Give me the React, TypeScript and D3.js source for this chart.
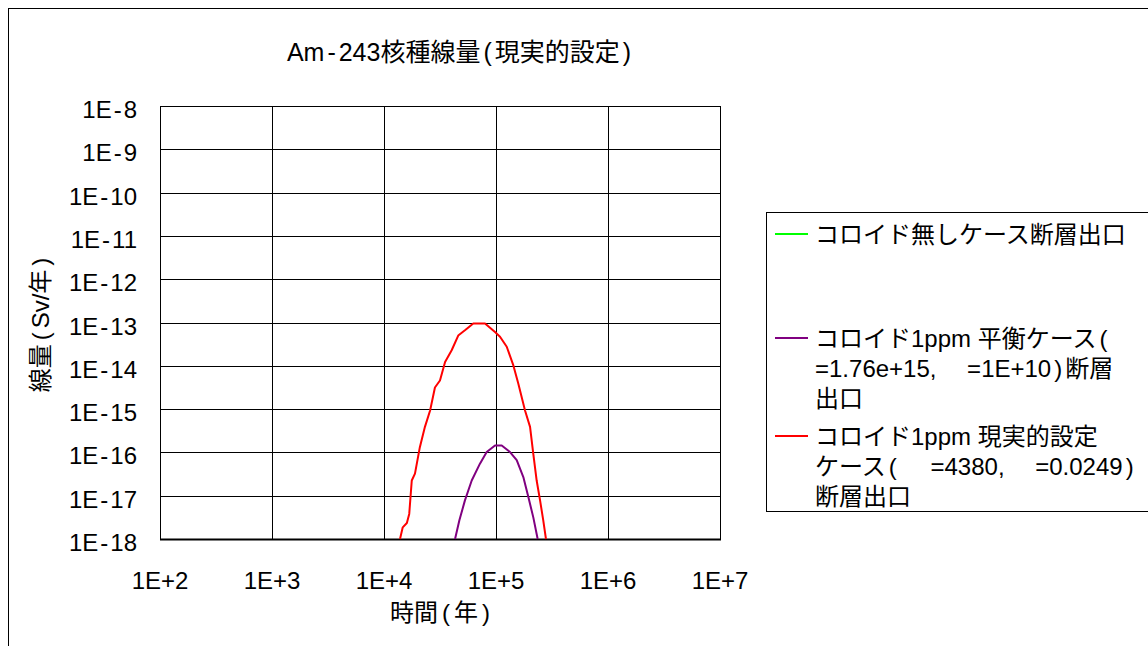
import React from "react";
import * as d3 from "d3";

// time (years) and dose (Sv/yr)
const redTime = [13900, 14700, 16000, 16800, 17700, 18900, 20900, 23200, 25800, 28500, 31600, 35100, 40200, 46000, 52800, 62700, 79800, 98000, 108600, 124700, 142900, 158100, 181600, 201400, 215300, 230700, 247200, 264200, 279300];
const redDose = [1e-18, 1.86e-18, 2.34e-18, 3.8e-18, 2.24e-17, 3.24e-17, 1.32e-16, 3.89e-16, 9.3e-16, 3.16e-15, 4.57e-15, 1.23e-14, 2.29e-14, 5.0e-14, 6.6e-14, 9.5e-14, 9.5e-14, 6.0e-14, 4.7e-14, 2.75e-14, 1.02e-14, 3.9e-15, 9.3e-16, 3.89e-16, 9.3e-17, 2.24e-17, 7.9e-18, 2.7e-18, 1e-18];

const purpleTime = [43100, 47100, 52800, 60700, 71900, 82600, 98000, 112500, 133400, 153100, 175400, 194500, 215300, 235500];
const purpleDose = [1e-18, 2.7e-18, 7.8e-18, 2.24e-17, 5.5e-17, 1.02e-16, 1.45e-16, 1.45e-16, 1.02e-16, 6.6e-17, 2.7e-17, 9.3e-18, 3.16e-18, 1e-18];

// no-colloid case stays below the plotted range
const greenTime: number[] = [];
const greenDose: number[] = [];

const xTicks = [1e2, 1e3, 1e4, 1e5, 1e6, 1e7];
const xTickLabels = ["1E+2", "1E+3", "1E+4", "1E+5", "1E+6", "1E+7"];
const yTicks = [1e-8, 1e-9, 1e-10, 1e-11, 1e-12, 1e-13, 1e-14, 1e-15, 1e-16, 1e-17, 1e-18];
const yTickLabels = ["1E-8", "1E-9", "1E-10", "1E-11", "1E-12", "1E-13", "1E-14", "1E-15", "1E-16", "1E-17", "1E-18"];

const legendLabels = [
  ["コロイド無しケース断層出口"],
  ["コロイド1ppm 平衡ケース(", "=1.76e+15,　 =1E+10)断層", "出口"],
  ["コロイド1ppm 現実的設定", "ケース(　 =4380,　 =0.0249)", "断層出口"],
];
const seriesColors = ["#00ff00", "#800080", "#ff0000"];

const FONT = "'Liberation Sans', Arial, 'Noto Sans CJK JP', sans-serif";

// the original font pads "-", "(" and ")" with a little space
function Spaced({ text, pad = 3 }: { text: string; pad?: number }) {
  const parts = text.split(/([-()])/).filter((p) => p !== "");
  return (
    <>
      {parts.map((p, i) =>
        p === "-" || p === "(" || p === ")" ? (
          <tspan key={i} dx={pad}>
            {p}
          </tspan>
        ) : (
          <tspan key={i} dx={i > 0 ? pad : 0}>
            {p}
          </tspan>
        )
      )}
    </>
  );
}

export default function App() {
  const left = 160, right = 720, top = 106, bottom = 539;
  const x = d3.scaleLog().domain([1e2, 1e7]).range([left, right]);
  const y = d3.scaleLog().domain([1e-18, 1e-8]).range([bottom, top]);

  const line = d3
    .line<[number, number]>()
    .x((d) => x(d[0]))
    .y((d) => y(d[1]));

  const series = [
    greenTime.map((t, i) => [t, greenDose[i]] as [number, number]),
    purpleTime.map((t, i) => [t, purpleDose[i]] as [number, number]),
    redTime.map((t, i) => [t, redDose[i]] as [number, number]),
  ];

  const legendRows = [234, 338, 436]; // first line y of each entry
  const rowGap = 30;

  return (
    <div style={{ position: "absolute", left: 0, top: 0 }}>
      <svg width={1148} height={646} style={{ display: "block", fontFamily: FONT }}>
        <rect x={0} y={0} width={1148} height={646} fill="#fff" />
        <rect x={8.5} y={8.5} width={1200} height={700} fill="none" stroke="#000" strokeWidth={1} />

        <text x={459} y={52} fontSize={25} textAnchor="middle" dominantBaseline="central">
          <Spaced text="Am-243核種線量(現実的設定)" pad={3} />
        </text>

        <defs>
          <clipPath id="plotClip">
            <rect x={left} y={top} width={right - left} height={bottom - top + 1} />
          </clipPath>
        </defs>

        {/* grid */}
        {xTicks.map((t) => (
          <line key={"gx" + t} x1={Math.round(x(t)) + 0.5} x2={Math.round(x(t)) + 0.5} y1={top} y2={bottom} stroke="#000" strokeWidth={1} />
        ))}
        {yTicks.map((t) => (
          <line key={"gy" + t} x1={left} x2={right} y1={Math.round(y(t)) + 0.5} y2={Math.round(y(t)) + 0.5} stroke="#000" strokeWidth={1} />
        ))}
        <rect x={left + 0.5} y={top + 0.5} width={right - left} height={bottom - top} fill="none" stroke="#000" strokeWidth={1} />
        <line x1={left} x2={right + 1} y1={bottom + 0.5} y2={bottom + 0.5} stroke="#000" strokeWidth={2} />

        {/* curves */}
        <g clipPath="url(#plotClip)">
          {series.map((s, i) =>
            s.length ? (
              <path key={i} d={line(s) || ""} fill="none" stroke={seriesColors[i]} strokeWidth={2} strokeLinejoin="round" />
            ) : null
          )}
        </g>

        {/* y tick labels */}
        {yTicks.map((t, i) => (
          <text key={"yl" + t} x={137} y={y(t) + 3} fontSize={24} textAnchor="end" dominantBaseline="central">
            <Spaced text={yTickLabels[i]} pad={2} />
          </text>
        ))}
        {/* x tick labels */}
        {xTicks.map((t, i) => (
          <text key={"xl" + t} x={x(t)} y={580} fontSize={24} textAnchor="middle" dominantBaseline="central">
            {xTickLabels[i]}
          </text>
        ))}

        <text x={440} y={612} fontSize={24} textAnchor="middle" dominantBaseline="central">
          <Spaced text="時間(年)" pad={4} />
        </text>
        <text transform="translate(40,325) rotate(-90)" fontSize={24} textAnchor="middle" dominantBaseline="central">
          <Spaced text="線量(Sv/年)" pad={4} />
        </text>

        {/* legend */}
        <rect x={766.5} y={212.5} width={500} height={299} fill="#fff" stroke="#000" strokeWidth={1} />
        {legendLabels.map((lines, i) => (
          <g key={"lg" + i}>
            <line x1={775} x2={808} y1={legendRows[i]} y2={legendRows[i]} stroke={seriesColors[i]} strokeWidth={2} />
            {lines.map((l, j) => (
              <text key={j} x={815} y={legendRows[i] + j * rowGap} fontSize={24} dominantBaseline="central" style={{ whiteSpace: "pre" }}>
                <Spaced text={l} pad={3} />
              </text>
            ))}
          </g>
        ))}
      </svg>
    </div>
  );
}
